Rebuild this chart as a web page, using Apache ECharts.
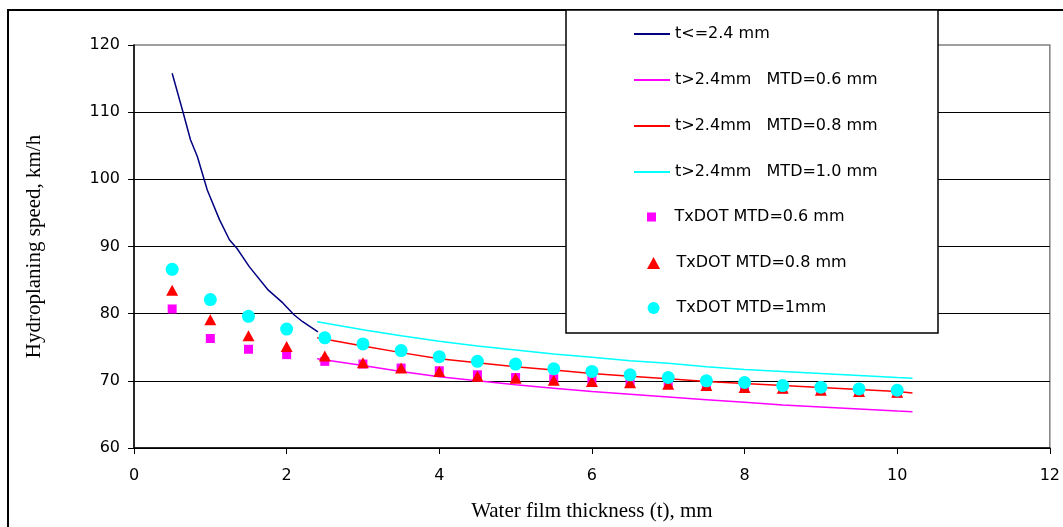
<!DOCTYPE html>
<html>
<head>
<meta charset="utf-8">
<script src="https://cdn.jsdelivr.net/npm/echarts@6/dist/echarts.min.js"></script>
<style>html,body{margin:0;padding:0;background:#fff}#c{width:1063px;height:527px}</style>
</head>
<body>
<div id="c"></div>
<script>
// ---- Data ----
const xTicks = [0, 2, 4, 6, 8, 10, 12];
const yTicks = [60, 70, 80, 90, 100, 110, 120];

const lineNames = ['t<=2.4 mm', 't>2.4mm   MTD=0.6 mm', 't>2.4mm   MTD=0.8 mm', 't>2.4mm   MTD=1.0 mm'];
const scatterNames = ['TxDOT MTD=0.6 mm', 'TxDOT MTD=0.8 mm', 'TxDOT MTD=1mm'];

// t <= 2.4 mm curve
const thinT = [0.5, 0.64, 0.74, 0.83, 0.96, 1.12, 1.25, 1.35, 1.51, 1.76, 1.95, 2.10, 2.21, 2.41];
const thinV = [115.8, 110.1, 105.9, 103.4, 98.4, 94.0, 91.0, 89.7, 87.0, 83.5, 81.6, 79.8, 78.8, 77.3];

// t > 2.4 mm curves
const thickT = [2.4, 3, 3.5, 4, 4.5, 5, 5.5, 6, 6.5, 7, 7.5, 8, 8.5, 9, 9.5, 10, 10.2];
const mtd06Line = [73.3, 72.3, 71.4, 70.6, 70.0, 69.4, 68.9, 68.4, 68.0, 67.6, 67.2, 66.8, 66.4, 66.1, 65.8, 65.5, 65.4];
const mtd08Line = [76.4, 75.2, 74.2, 73.3, 72.7, 72.1, 71.6, 71.1, 70.7, 70.3, 69.9, 69.6, 69.3, 69.0, 68.7, 68.4, 68.2];
const mtd10Line = [78.8, 77.6, 76.7, 75.9, 75.2, 74.6, 74.0, 73.5, 73.0, 72.6, 72.1, 71.7, 71.4, 71.1, 70.8, 70.5, 70.4];

// TxDOT points
const txT = [0.5, 1, 1.5, 2, 2.5, 3, 3.5, 4, 4.5, 5, 5.5, 6, 6.5, 7, 7.5, 8, 8.5, 9, 9.5, 10];
const tx06 = [80.7, 76.3, 74.7, 73.9, 72.9, 72.5, 71.9, 71.5, 70.9, 70.5, 70.3, 70.1, 69.9, 69.6, 69.3, 69.1, 68.8, 68.6, 68.4, 68.2];
const tx08 = [83.5, 79.1, 76.7, 75.1, 73.7, 72.7, 71.9, 71.4, 70.7, 70.4, 70.1, 69.9, 69.7, 69.5, 69.3, 69.0, 68.9, 68.6, 68.4, 68.3];
const tx10 = [86.6, 82.1, 79.6, 77.7, 76.4, 75.5, 74.5, 73.6, 72.9, 72.5, 71.8, 71.4, 70.9, 70.5, 70.0, 69.75, 69.3, 69.05, 68.8, 68.6];

const zip = (a, b) => a.map((v, i) => [v, b[i]]);

// ---- Styling ----
const lineColors = ['#000080', '#FF00FF', '#FF0000', '#00FFFF'];
const scatterColors = ['#FF00FF', '#FF0000', '#00FFFF'];
const sansFont = 'DejaVu Sans';
const serifFont = 'Liberation Serif';

const lineData = [zip(thinT, thinV), zip(thickT, mtd06Line), zip(thickT, mtd08Line), zip(thickT, mtd10Line)];
const scatterData = [zip(txT, tx06), zip(txT, tx08), zip(txT, tx10)];
const scatterSymbols = ['rect', 'triangle', 'circle'];
const scatterSizes = [9, [12, 11], 13];

const series = [];
lineNames.forEach((n, i) => series.push({
  name: n, type: 'line', data: lineData[i], showSymbol: false, symbol: 'none', smooth: false,
  lineStyle: { color: lineColors[i], width: 1.5 }, itemStyle: { color: lineColors[i] },
  z: 2, animation: false
}));
scatterNames.forEach((n, i) => series.push({
  name: n, type: 'scatter', data: scatterData[i], symbol: scatterSymbols[i], symbolSize: scatterSizes[i],
  itemStyle: { color: scatterColors[i], opacity: 1 }, z: 3, animation: false
}));

const legendText = { fontFamily: sansFont, fontSize: 16, lineHeight: 16, color: '#000' };
const legendBase = { orient: 'vertical', left: 634, padding: 0, itemWidth: 36, selectedMode: false, z: 11, textStyle: legendText };

const option = {
  animation: false,
  backgroundColor: '#fff',
  grid: { left: 134, top: 45, right: 10, bottom: 79, show: true, borderColor: '#808080', borderWidth: 1.5, backgroundColor: 'transparent' },
  xAxis: {
    type: 'value', min: 0, max: 12, interval: 2,
    name: 'Water film thickness (t), mm', nameLocation: 'middle', nameGap: 53,
    nameTextStyle: { fontFamily: serifFont, fontSize: 21, color: '#000' },
    axisLine: { show: true, onZero: false, lineStyle: { color: '#000', width: 1.5 } },
    axisTick: { show: true, length: 6, lineStyle: { color: '#000', width: 1 } },
    axisLabel: { margin: 20, fontFamily: sansFont, fontSize: 16, color: '#000',
      formatter: v => xTicks.includes(v) ? String(v) : '' },
    splitLine: { show: false }
  },
  yAxis: {
    type: 'value', min: 60, max: 120, interval: 10,
    name: 'Hydroplaning speed, km/h', nameLocation: 'middle', nameGap: 89, nameRotate: 90,
    nameTextStyle: { fontFamily: serifFont, fontSize: 21, color: '#000' },
    axisLine: { show: true, onZero: false, lineStyle: { color: '#000', width: 1.5 } },
    axisTick: { show: true, length: 6, lineStyle: { color: '#000', width: 1 } },
    axisLabel: { margin: 14, fontFamily: sansFont, fontSize: 16, color: '#000',
      formatter: v => yTicks.includes(v) ? String(v) : '' },
    splitLine: { show: true, showMaxLine: false, lineStyle: { color: '#000', width: 1.2 } }
  },
  legend: [
    Object.assign({}, legendBase, { top: 26, itemGap: 30, itemHeight: 2,
      data: lineNames.map(n => ({ name: n, icon: 'rect' })) }),
    Object.assign({}, legendBase, { left: 647, top: 209, itemGap: 30, itemHeight: 9,
      data: [{ name: scatterNames[0], icon: 'path://M0,0H10V10H0Z' }] }),
    Object.assign({}, legendBase, { left: 647, top: 255, itemGap: 29, itemHeight: 12,
      data: [{ name: scatterNames[1], icon: 'path://M6,0L12,11L0,11Z' }, { name: scatterNames[2], icon: 'circle' }] })
  ],
  graphic: [
    { type: 'rect', z: 10, silent: true, shape: { x: 8, y: 10, width: 1100, height: 600 },
      style: { fill: 'none', stroke: '#000', lineWidth: 2 } },
    { type: 'rect', z: 10, silent: true, shape: { x: 566, y: 10, width: 372, height: 323 },
      style: { fill: '#fff', stroke: '#000', lineWidth: 1.5 } }
  ],
  series: series
};

const chart = echarts.init(document.getElementById('c'), null, { renderer: 'canvas' });
chart.setOption(option);
</script>
</body>
</html>
